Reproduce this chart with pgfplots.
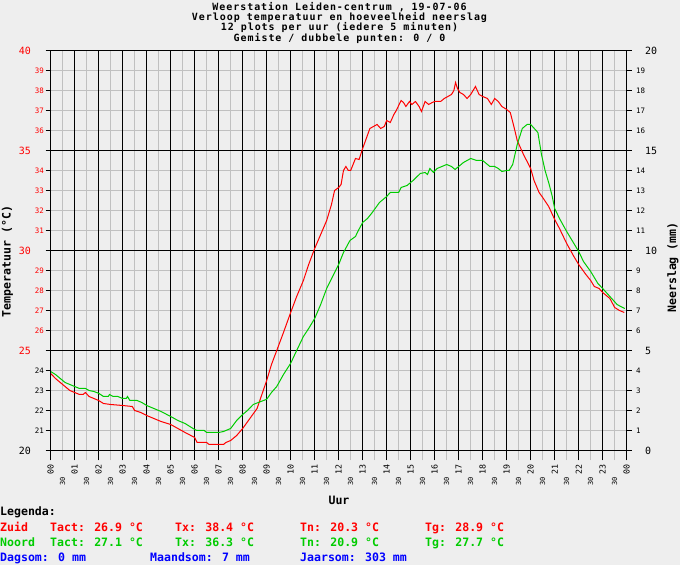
\documentclass[border=0pt]{standalone}
\usepackage{pgfplots}
\pgfplotsset{compat=1.18}
\usepackage{fontspec}
\setmainfont{DejaVu Sans Mono}
\definecolor{bg}{HTML}{EEEEEE}
\definecolor{gridgray}{HTML}{C0C0C0}
\definecolor{zred}{HTML}{FF0000}
\definecolor{ngreen}{HTML}{00CC00}
\definecolor{dblue}{HTML}{0000FF}
\newcommand{\fs}[1]{\fontsize{#1}{#1}\selectfont}
\newcommand{\YM}[2]{\textcolor{#1}{\fs{10}#2}\hspace*{13bp}}
\newcommand{\Ym}[2]{\textcolor{#1}{\fs{7.5}#2}}
\newcommand{\RM}[1]{\hspace*{9bp}{\fs{10}#1}}
\newcommand{\Rm}[1]{{\fs{7.5}#1}}

\pgfplotstableread{
h T
0.00 23.85
0.2 23.6
0.4 23.4
0.6 23.2
0.8 23.0
1.0 22.9
1.2 22.8
1.35 22.8
1.45 22.9
1.6 22.7
1.8 22.6
2.0 22.5
2.2 22.35
2.5 22.3
3.0 22.25
3.4 22.2
3.5 22.0
3.75 21.9
4.0 21.75
4.3 21.6
4.6 21.45
5.0 21.3
5.3 21.1
5.6 20.9
6.0 20.65
6.1 20.4
6.5 20.4
6.6 20.3
7.0 20.3
7.2 20.3
7.3 20.4
7.5 20.5
7.75 20.75
8.0 21.1
8.3 21.6
8.6 22.1
8.8 22.8
9.0 23.5
9.2 24.3
9.42 25.0
9.7 25.9
10.0 26.9
10.25 27.7
10.53 28.5
10.75 29.3
11.0 30.1
11.25 30.8
11.5 31.5
11.7 32.3
11.83 33.0
12.0 33.15
12.1 33.3
12.2 34.0
12.3 34.2
12.4 34.0
12.5 34.0
12.7 34.6
12.85 34.55
13.0 35.1
13.15 35.6
13.3 36.1
13.45 36.2
13.6 36.3
13.75 36.1
13.9 36.2
14.0 36.5
14.15 36.4
14.3 36.8
14.4 37.0
14.6 37.5
14.7 37.4
14.8 37.2
14.95 37.45
15.05 37.3
15.2 37.45
15.35 37.2
15.45 36.95
15.6 37.45
15.75 37.3
15.9 37.4
16.0 37.45
16.25 37.45
16.4 37.6
16.7 37.8
16.8 38.0
16.87 38.4
16.95 38.1
17.05 37.9
17.2 37.8
17.35 37.6
17.5 37.8
17.7 38.2
17.85 37.8
18.0 37.7
18.2 37.6
18.36 37.3
18.5 37.6
18.65 37.45
18.8 37.2
19.0 37.05
19.15 36.9
19.3 36.2
19.44 35.5
19.7 34.8
20.0 34.1
20.14 33.5
20.35 32.9
20.5 32.65
20.75 32.2
21.0 31.55
21.2 31.1
21.5 30.35
21.8 29.7
22.0 29.3
22.3 28.8
22.5 28.5
22.65 28.2
22.85 28.1
23.0 27.9
23.3 27.6
23.5 27.15
23.7 27.0
23.9 26.9
}\zuid

\pgfplotstableread{
h T
0.0 23.95
0.2 23.8
0.4 23.6
0.6 23.4
0.8 23.3
1.0 23.2
1.2 23.1
1.45 23.1
1.6 23.0
1.8 22.95
2.0 22.86
2.2 22.7
2.4 22.7
2.45 22.8
2.6 22.7
2.8 22.7
3.0 22.6
3.15 22.6
3.2 22.7
3.3 22.5
3.6 22.5
3.8 22.4
4.0 22.25
4.3 22.1
4.6 21.95
5.0 21.7
5.3 21.5
5.6 21.35
6.0 21.05
6.1 21.0
6.4 21.0
6.5 20.9
7.0 20.9
7.2 20.95
7.3 21.0
7.5 21.1
7.75 21.5
8.0 21.8
8.2 22.0
8.44 22.3
8.65 22.4
9.0 22.56
9.2 22.9
9.42 23.2
9.7 23.8
10.0 24.36
10.25 25.0
10.53 25.7
10.75 26.1
11.0 26.6
11.25 27.3
11.5 28.1
11.75 28.7
12.0 29.3
12.2 29.9
12.47 30.5
12.7 30.7
12.82 31.0
13.0 31.4
13.2 31.6
13.4 31.9
13.7 32.4
14.0 32.7
14.15 32.9
14.5 32.9
14.6 33.15
14.85 33.25
15.1 33.5
15.4 33.85
15.6 33.9
15.7 33.8
15.8 34.1
15.95 33.9
16.1 34.1
16.3 34.2
16.5 34.3
16.7 34.2
16.85 34.05
17.0 34.2
17.2 34.4
17.5 34.6
17.75 34.5
18.0 34.5
18.3 34.2
18.5 34.2
18.65 34.1
18.8 33.95
19.0 34.0
19.1 34.0
19.25 34.3
19.44 35.3
19.65 36.1
19.85 36.3
20.0 36.3
20.15 36.1
20.3 35.9
20.45 34.8
20.6 34.0
20.76 33.35
20.9 32.7
21.0 32.1
21.2 31.6
21.5 30.95
21.8 30.35
22.0 29.95
22.2 29.45
22.5 28.95
22.8 28.35
23.0 28.1
23.3 27.7
23.6 27.3
23.75 27.2
23.92 27.1
}\noord

\begin{document}
\begin{tikzpicture}[x=1bp,y=1bp]
\fill[bg] (0,0) rectangle (680,565);
% Axis A: half-hour grid, degree grid, left labels
\begin{axis}[
  at={(50.67bp,114.5bp)}, anchor=south west,
  width=576bp, height=400bp, scale only axis,
  xmin=0, xmax=24, ymin=20, ymax=40,
  axis line style={black, line width=1bp},
  tick align=outside, major tick length=10bp,
  xtick pos=bottom,
  xtick={0.5,1.5,...,23.5},
  xticklabels={30,30,30,30,30,30,30,30,30,30,30,30,30,30,30,30,30,30,30,30,30,30,30,30},
  xticklabel style={yshift=-16.2bp, rotate=90, anchor=east, inner sep=0pt, font=\fs{7}},
  xtick style={gridgray, line width=1bp},
  ytick={20,21,...,40},
  yticklabels={\YM{black}{20},\Ym{black}{21},\Ym{black}{22},\Ym{black}{23},\Ym{black}{24},
    \YM{zred}{25},\Ym{zred}{26},\Ym{zred}{27},\Ym{zred}{28},\Ym{zred}{29},
    \YM{zred}{30},\Ym{zred}{31},\Ym{zred}{32},\Ym{zred}{33},\Ym{zred}{34},
    \YM{zred}{35},\Ym{zred}{36},\Ym{zred}{37},\Ym{zred}{38},\Ym{zred}{39},\YM{zred}{40}},
  yticklabel style={anchor=east, inner sep=0pt, xshift=3.4bp},
  ytick style={draw=none},
  grid=major, major grid style={gridgray, line width=1bp},
]
\end{axis}
% Axis B: hour grid, five-degree grid, hour labels, data
\begin{axis}[
  at={(50.67bp,114.5bp)}, anchor=south west,
  width=576bp, height=400bp, scale only axis,
  xmin=0, xmax=24, ymin=20, ymax=40,
  axis line style={black, line width=1bp},
  tick align=outside, major tick length=10bp,
  xtick pos=bottom,
  xtick={0,1,...,24},
  xticklabels={00,01,02,03,04,05,06,07,08,09,10,11,12,13,14,15,16,17,18,19,20,21,22,23,00},
  xticklabel style={yshift=-3.8bp, rotate=90, anchor=east, inner sep=0pt, font=\fs{8.3}},
  xtick style={black, line width=1bp},
  ytick={25,30,35},
  yticklabels={},
  ytick style={draw=none},
  grid=major, major grid style={black, line width=1bp},
]
\addplot[zred, line width=1bp] table[x=h, y=T] {\zuid};
\addplot[ngreen, line width=1bp] table[x=h, y=T] {\noord};
\end{axis}
% Axis C: rain axis on the right, tick marks both sides
\begin{axis}[
  at={(50.67bp,114.5bp)}, anchor=south west,
  width=576bp, height=400bp, scale only axis,
  xmin=0, xmax=24, ymin=0, ymax=20,
  axis line style={black, line width=1bp},
  tick align=outside, major tick length=5bp,
  xtick=\empty,
  ytick={0,1,...,20}, ytick pos=both, yticklabel pos=right,
  yticklabels={\RM{0},\Rm{1},\Rm{2},\Rm{3},\Rm{4},\RM{5},\Rm{6},\Rm{7},\Rm{8},\Rm{9},\RM{10},
    \Rm{11},\Rm{12},\Rm{13},\Rm{14},\RM{15},\Rm{16},\Rm{17},\Rm{18},\Rm{19},\RM{20}},
  yticklabel style={anchor=west, inner sep=0pt, black, xshift=4.3bp},
  ytick style={black, line width=1bp},
]
\addplot[draw=none] coordinates {(0,0)};
\end{axis}
% titles and labels
\begin{scope}[every node/.style={inner sep=0pt, font=\bfseries\fs{10}\addfontfeature{LetterSpace=9.8}}]
\node[anchor=base] at (339.5,554.5) {Weerstation Leiden-centrum , 19-07-06};
\node[anchor=base] at (339.5,544.3) {Verloop temperatuur en hoeveelheid neerslag};
\node[anchor=base] at (339.5,534.1) {12 plots per uur (iedere 5 minuten)};
\node[anchor=base] at (339.5,523.9) {Gemiste / dubbele punten: 0 / 0};
\end{scope}
\begin{scope}[every node/.style={inner sep=0pt, font=\bfseries\fs{11.6}}]
\node[anchor=base] at (339,60) {Uur};
\node[anchor=base, rotate=90] at (10.5,303.3) {Temperatuur (°C)};
\node[anchor=base, rotate=90] at (676,297.5) {Neerslag (mm)};
\node[anchor=base west] at (0,49) {Legenda:};
\node[anchor=base west, zred] at (0,33.3) {Zuid};
\node[anchor=base west, zred] at (50,33.3) {Tact: 26.9 °C};
\node[anchor=base west, zred] at (175,33.3) {Tx: 38.4 °C};
\node[anchor=base west, zred] at (300,33.3) {Tn: 20.3 °C};
\node[anchor=base west, zred] at (425,33.3) {Tg: 28.9 °C};
\node[anchor=base west, ngreen] at (0,18.3) {Noord};
\node[anchor=base west, ngreen] at (50,18.3) {Tact: 27.1 °C};
\node[anchor=base west, ngreen] at (175,18.3) {Tx: 36.3 °C};
\node[anchor=base west, ngreen] at (300,18.3) {Tn: 20.9 °C};
\node[anchor=base west, ngreen] at (425,18.3) {Tg: 27.7 °C};
\node[anchor=base west, dblue] at (0,3.3) {Dagsom: 0 mm};
\node[anchor=base west, dblue] at (150,3.3) {Maandsom: 7 mm};
\node[anchor=base west, dblue] at (300,3.3) {Jaarsom: 303 mm};
\end{scope}
\pgfresetboundingbox
\path[use as bounding box] (0,0) rectangle (680,565);
\end{tikzpicture}
\end{document}
